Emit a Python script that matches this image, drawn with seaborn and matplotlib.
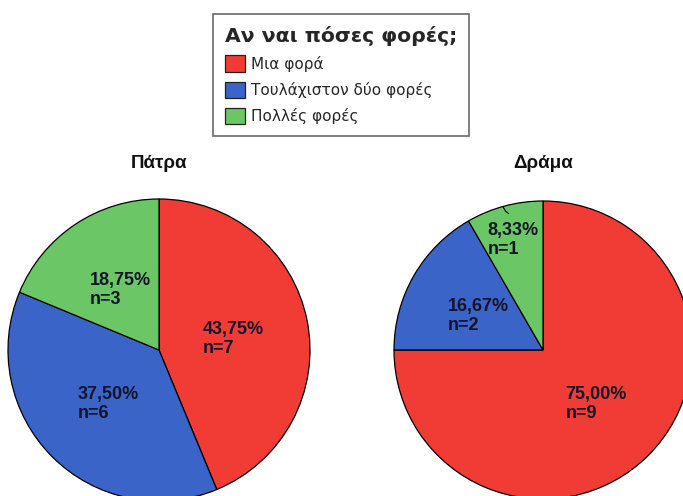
import matplotlib
matplotlib.use("Agg")
import matplotlib.pyplot as plt
import seaborn as sns
from matplotlib.patches import Patch
from matplotlib.lines import Line2D

sns.set_style("white")
plt.rcParams['font.family'] = ['Liberation Sans', 'DejaVu Sans']

# ---- data ----
categories = ["Μια φορά", "Τουλάχιστον δύο φορές", "Πολλές φορές"]
cities = ["Πάτρα", "Δράμα"]
patra_counts = [7, 6, 3]
drama_counts = [9, 2, 1]
legend_title = "Αν ναι πόσες φορές;"
colors = sns.color_palette(["#F03C35", "#3B64C8", "#6BC765"])

W, H = 683, 496
fig = plt.figure(figsize=(W / 100, H / 100), dpi=100)
fig.patch.set_facecolor("white")


def add_pie(cx, cy, r, counts, title, label_pos):
    ax = fig.add_axes([(cx - r) / W, (H - cy - r) / H, 2 * r / W, 2 * r / H])
    wedges, _ = ax.pie(counts, colors=colors, startangle=90, counterclock=False,
                       radius=1, wedgeprops=dict(edgecolor="black", linewidth=0.9))
    for w in wedges:
        w.set_clip_on(False)
    ax.set_xlim(-1, 1)
    ax.set_ylim(-1, 1)
    ax.set_axis_off()
    total = sum(counts)
    for c, (x, y) in zip(counts, label_pos):
        pct = f"{c / total * 100:.2f}%".replace(".", ",")
        ax.text(x, y, f"{pct}\nn={c}", ha="left", va="center",
                fontsize=13, fontweight="bold", color="#14142a",
                family=["Liberation Sans", "DejaVu Sans"],
                linespacing=1.15)
    fig.text(cx / W, 1 - 163 / H, title, ha="center", va="center",
             fontsize=13.5, fontweight="bold", color="#111111")
    return ax


ax1 = add_pie(159, 350, 151, patra_counts, cities[0],
              [(0.29, 0.073), (-0.54, -0.36), (-0.46, 0.40)])
ax2 = add_pie(543, 350, 149, drama_counts, cities[1],
              [(0.15, -0.36), (-0.64, 0.23), (-0.37, 0.74)])
# small leader line for the smallest slice
ax2.add_line(Line2D([-0.27, -0.25, -0.23], [0.963, 0.93, 0.915],
                    color="black", linewidth=0.8, clip_on=False))

handles = [Patch(facecolor=c, edgecolor="#222222", linewidth=0.9) for c in colors]
leg = fig.legend(handles, categories, title=legend_title, loc="upper left",
                 bbox_to_anchor=(213 / W, 1 - 14 / H), frameon=True, fancybox=False,
                 edgecolor="#444444",
                 prop={"family": "DejaVu Sans", "size": 11},
                 title_fontproperties={"family": "DejaVu Sans", "weight": "bold", "size": 14.7},
                 handlelength=1.3, handleheight=1.3, handletextpad=0.4,
                 labelspacing=0.62, borderpad=0.78, alignment="left",
                 borderaxespad=0)
leg.get_frame().set_linewidth(1.2)

fig.savefig("out.png", dpi=100, facecolor="white")
